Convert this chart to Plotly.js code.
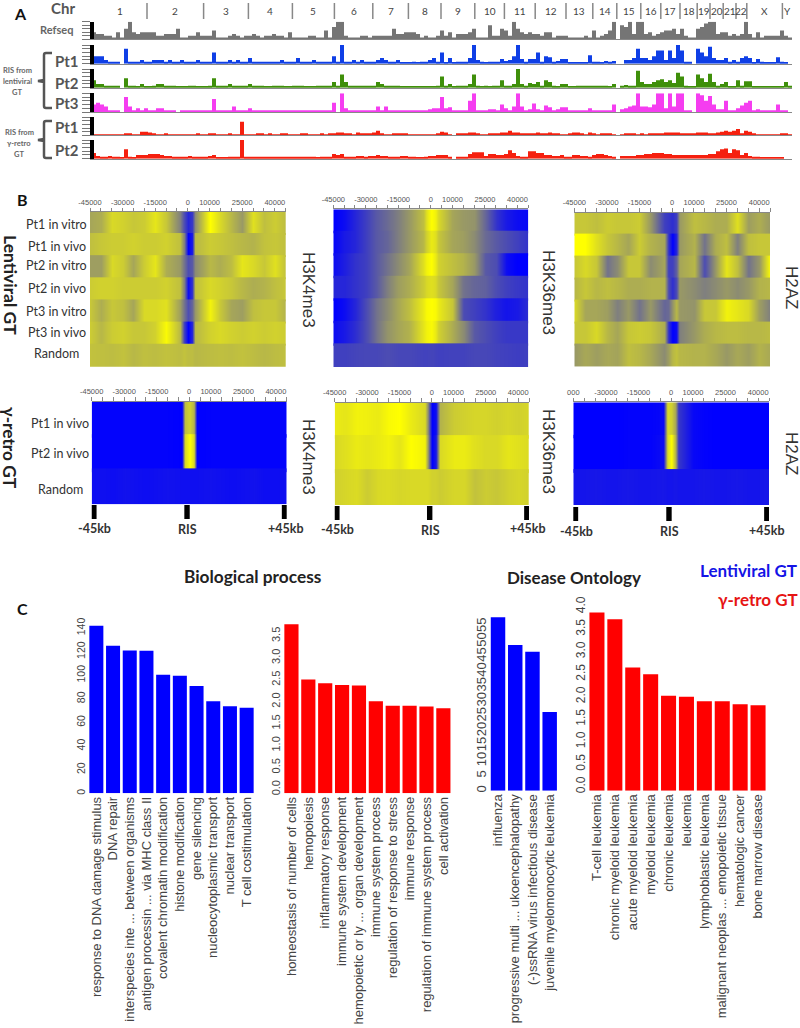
<!DOCTYPE html>
<html><head><meta charset="utf-8">
<script src="https://cdn.plot.ly/plotly-3.0.1.min.js"></script>
<style>html,body{margin:0;padding:0;background:#fff}</style></head>
<body><div id="chart" style="width:800px;height:1028px"></div>
<script>
// ---------- Panel A: chromosome tracks ----------
const chrNames=['1','2','3','4','5','6','7','8','9','10','11','12','13','14','15','16','17','18','19','20','21','22','X','Y'];
const chrEdges=[0,13.75,27.9,39.1,50.1,60.6,70.2,79.1,87.25,95.7,103.1,110.8,118.5,125.2,131.2,137.2,142.2,147,151.3,154.5,157.8,161,163.7,172.6,175];
const refseq=[4,3,3,2,2,1,4,1,6,10,4,3,4,4,4,4,2,2,3,3,3,6,1,1,2,2,4,2,2,2,5,1,1,1,2,3,2,1,2,2,3,2,1,2,2,3,2,2,1,4,1,1,1,1,2,2,1,1,5,1,7,10,10,2,1,1,1,2,2,1,2,2,2,2,2,6,3,
3,4,4,4,3,1,2,1,1,2,5,2,4,1,3,3,3,4,6,1,1,1,8,2,2,6,5,2,10,6,4,3,4,3,3,2,4,4,1,2,2,2,1,1,1,1,2,1,5,1,2,3,5,10,0,8,7,10,3,10,10,3,4,2,3,4,5,5,6,3,6,2,1,1,6,7,9,10,10,3,4,4,2,3,2,3,10,3,1,4,1,2,2,2,2,5,2,1];
const lentiPt1=[4,4,4,2,1,1,1,0,8,1,1,1,2,1,1,2,2,2,1,2,1,1,2,1,1,1,2,1,1,1,6,1,1,1,2,1,2,1,1,3,1,1,1,1,1,1,1,2,1,1,1,3,1,1,1,2,1,1,1,1,4,1,10,1,1,2,1,2,1,1,1,2,3,2,1,1,2,
.5,.5,.5,1,.5,1,1,2,3,1,6,.5,3,.5,1,1,1,3,10,2,1,.5,1,1,1,2.5,1.5,2,4,10,2.5,1,2.5,2.5,6,1,4,3.5,1,1.5,2.5,2.5,.5,.5,.5,.5,.5,4.5,1,1,.5,1.5,1,1.5,0,0,2,2,3,8,3,3,2,4,7,7,2,7,3,10,7,1,1,0,8,6,4,9,3,2,2,3,1,2,1,3,4,3,.5,2.5,1,.5,.5,.5,3.5,1,.5,0];
const lentiPt2=[4,2,2,1,1,1,1,0,5,1,1,.5,2,.5,.5,1,2,2,1,1,1,.5,.5,.5,1,1,.5,.5,.5,1,5,1,1,1,2,1,1,1,1,2,1,1,1,.5,.5,1,1,1,.5,.5,1,1,1,.5,.5,.5,1,1,1,1,3,1,7,3,1,1,1,1,1,1,1,3,2,1,1,1,1,
.5,.5,.5,.5,.5,.5,.5,.5,.5,1,6,1,2,.5,1,1,1,2,7,1,.5,1,.5,1,1,4,1,1,2,10,2,1,2.5,2,3,1,4,3,1,.5,2,2,.5,.5,1,1,1,1,1,1,1,1,.5,2,0,1,1.5,1,1,9,3,2,2,3,4,4.5,3,4,2.5,8,6,1,.5,.5,7,5,3,7.5,3,1,2,3,.5,.5,4,1,3.5,3.5,.5,.5,.5,.5,.5,.5,.5,.5,3,1,0];
const lentiPt3=[4,5,4,3,1,1,1,0,8,3,1,2,1,2,1,1,2,2,1,1,1,0,1,1,1,1,.5,1,1,1,7,1,1,.5,.5,3,.5,.5,1,2,1,.5,.5,1,1,.5,.5,1,.5,1,1,1,.5,.5,1,1,.5,.5,1,1,5,0,10,2,1,1,1,1,1,1,1,3,1,3,1,1,1,
.5,.5,.5,.5,.5,.5,.5,1.5,2,2,8,2,2.5,.5,1,.5,.5,6,10,1,.5,.5,1.5,1.5,1,4,2,1,3,10,3,1,1.5,4.5,1.5,.5,3.5,2.5,1,1.5,2.5,2.5,.5,1,1,1,.5,2,.5,1,1,1,1,4,0,1.5,2,3,3.5,10,3,3,2.5,4,10,10,2,10,3,10,10,.5,.5,0,10,9,6,8.5,4,1.5,1.5,6,1,1,2,3.5,5,6,.5,1.5,.5,.5,.5,.5,4,.5,.5,0];
const retroPt1=[.5,.5,.5,.5,.5,.5,.5,.5,1,1,.5,.5,2,2,1.5,1,.5,.5,1,.5,.5,.5,.5,.5,.5,.5,1,.5,.5,1,1,.5,.5,.5,1,.5,.5,7.5,.5,.5,.5,1,1,.5,1,.5,.5,1,1,.5,.5,.5,1,1,.5,.5,.5,1,.5,1,1,1.5,1.5,1,1,.5,1.5,1,1,1,1.5,2.5,1,.5,.5,1,1,
1,1,.5,.5,.5,.5,.5,.5,.5,1,2,1.5,.5,0,1,1,1,1.5,1.5,1,.5,.5,1,1,1,1.5,1.5,2.5,1.5,1.5,1,1,1,1,1.5,1,1,1.5,1,1,.5,.5,1,1.5,1.5,1,.5,1.5,1,.5,1,1,1,.5,0,.5,1,1,1,.5,1,.5,1,1,1,1,1.5,1.5,1.5,1.5,1,1,1,1,1.5,1.5,1.5,1,1,1.5,2,2.5,2,2.5,3.5,1,2.5,2,1,.5,.5,.5,.5,.5,.5,1,1,.5];
const retroPt2=[3,1.5,1,1,1.5,1,1,.5,5,1,.5,2,2,2,2.5,2.5,2.5,2,1.5,1.5,1,1,1,1,1.5,1,1,1,1,1.5,2,.5,.5,.5,1,1,1,10,1,1,1,1,1,1,1,1,1,1,1,1,1,1,1,1,1,1,.5,1,1,1,2.5,2,2.5,1,1,1,1.5,1.5,1,1.5,1.5,2,1.5,1.5,1,1,1,
1.5,1.5,1,1,.5,.5,1,1.5,1.5,2,2,2,1,0,1,1,1,2.5,3.5,3.5,3.5,1.5,2.5,2.5,2,2,2.5,4.5,3,1.5,1,1,4,4,3,3,2,2,1.5,1.5,2,1,1,2,2,1.5,1.5,1,2,2.5,2.5,2,1.5,1,0,1.5,1.5,1.5,1.5,2,2,2.5,2.5,3,3,3,2.5,2.5,2,2,2,2,2,2,2,2,2,2.5,2.5,4,5,5.5,3,5,4.5,2,3,1.5,1,1,.5,.5,.5,.5,.5,.5,0];
const trackColors=['#757575','#0f3fe6','#3f8f0a','#f53df0','#f5200f','#f5200f'];

// ---------- Panel B: heat maps (0 blue, 100 yellow) ----------
const offsets=[-45000,-40000,-35000,-30000,-25000,-20000,-15000,-10000,-3500,-2000,0,2000,3500,10000,15000,20000,25000,30000,35000,40000,45000];
const tickPos=[-45000,-40000,-35000,-30000,-25000,-20000,-15000,-10000,-5000,0,5000,10000,15000,20000,25000,30000,35000,40000,45000];
const tickTxt=['-45000','','','-30000','','','-15000','','','0','','10000','','','25000','','','40000',''];
const tickTxtCut=['000','','','-30000','','','-15000','','','0','','10000','','','25000','','','40000',''];
const k4Lenti=[
[65,68,85,82,78,80,90,78,50,30,15,22,55,100,85,72,60,88,75,80,74],
[75,78,80,80,82,80,80,82,75,50,0,10,72,80,78,75,72,70,76,78,75],
[62,62,85,80,65,80,90,68,60,45,30,35,55,72,68,74,90,85,78,88,75],
[80,82,82,80,80,80,80,82,75,50,5,20,75,85,82,78,72,68,70,75,78],
[78,68,78,75,65,85,85,88,62,45,30,40,60,95,78,65,62,75,78,78,70],
[80,72,80,82,78,78,82,98,72,25,0,15,72,82,85,82,80,82,80,82,80],
[76,75,74,76,72,75,74,76,74,76,74,74,72,74,75,74,76,74,72,74,75]];
const k36Lenti=[
[0,5,15,25,35,42,50,60,75,88,100,95,85,65,60,58,40,20,10,5,3],
[2,10,15,25,35,40,50,60,72,82,92,88,78,65,62,55,42,35,30,25,20],
[5,12,20,25,35,45,55,65,88,95,100,92,82,75,70,60,35,30,5,0,0],
[15,15,20,25,35,50,62,68,80,85,88,85,78,65,45,40,38,30,25,22,20],
[0,5,15,30,45,55,66,75,92,98,100,98,92,78,30,25,20,12,8,10,18],
[5,10,18,30,45,58,65,70,90,95,98,92,82,68,55,35,30,25,22,22,22],
[25,25,27,28,28,30,28,28,26,26,27,26,25,26,26,28,28,26,25,24,25]];
const h2azLenti=[
[78,78,75,80,78,78,80,60,25,22,18,25,60,75,72,68,68,88,62,68,60],
[100,100,88,78,72,65,80,70,65,20,0,15,60,70,45,68,75,50,75,78,78],
[78,85,78,45,55,78,78,55,65,25,25,38,65,72,30,60,90,75,45,60,100],
[72,78,72,75,72,68,68,70,70,30,18,30,60,55,50,55,60,55,60,70,72],
[85,65,65,62,50,60,45,60,40,42,58,72,60,58,78,78,95,90,85,62,50],
[78,78,85,72,65,78,80,78,68,20,0,5,50,60,68,72,74,74,72,72,74],
[60,66,62,66,64,75,72,66,55,62,72,76,72,70,70,66,60,66,62,70,66]];
const k4Retro=[
[1,1,1,1,1,1,1,1,0,75,82,70,0,1,1,1,1,1,1,1,1],
[1,1,1,1,1,1,1,1,0,85,100,85,0,1,1,1,1,1,1,1,1],
[5,6,5,7,6,5,6,7,6,6,6,6,6,7,6,5,6,7,5,5,6]];
const k36Retro=[
[92,90,95,94,92,98,100,92,85,55,0,5,70,80,82,84,84,82,84,82,84],
[85,88,92,90,92,95,90,100,95,60,0,10,85,92,92,88,85,85,90,88,86],
[82,84,86,80,85,86,84,85,85,85,82,82,80,84,84,76,80,78,82,84,82]];
const h2azRetro=[
[0,0,0,0,0,1,1,1,3,85,82,65,22,3,1,0,0,0,0,0,0],
[0,0,0,0,0,1,1,1,5,85,100,70,22,3,1,0,0,0,0,0,0],
[8,8,9,8,8,9,8,8,9,8,8,9,8,8,9,8,8,9,8,8,9]];
const rowsLenti=['Pt1 in vitro','Pt1 in vivo','Pt2 in vitro','Pt2 in vivo','Pt3 in vitro','Pt3 in vivo','Random'];
const rowsRetro=['Pt1 in vivo','Pt2 in vivo','Random'];

// ---------- Panel C: bars ----------
const bpLentiCats=['response to DNA damage stimulus','DNA repair','interspecies inte ... between organisms','antigen processin ... via MHC class II','covalent chromatin modification','histone modification','gene silencing','nucleocytoplasmic transport','nuclear transport','T cell costimulation'];
const bpLentiVals=[142,125,121,120.8,100.5,99.7,91,78,73.7,72.4];
const bpRetroCats=['homeostasis of number of cells','hemopoiesis','inflammatory response','immune system development','hemopoietic or ly ... organ development','immune system process','regulation of response to stress','immune response','regulation of immune system process','cell activation'];
const bpRetroVals=[3.86,2.6,2.51,2.47,2.46,2.1,2.0,2.0,1.98,1.94];
const doLentiCats=['influenza','progressive multi ... ukoencephalopathy','(-)ssRNA virus infectious disease','juvenile myelomonocytic leukemia'];
const doLentiVals=[58.1,48.8,46.6,26.4];
const doRetroCats=['T-cell leukemia','chronic myeloid leukemia','acute myeloid leukemia','myeloid leukemia','chronic leukemia','leukemia','lymphoblastic leukemia','malignant neoplas ... emopoietic tissue','hematologic cancer','bone marrow disease'];
const doRetroVals=[3.96,3.81,2.74,2.59,2.11,2.09,1.99,1.99,1.92,1.9];

const W=800,H=1028;
const px=v=>v/W, py=v=>1-v/H;
const traces=[],shapes=[],annotations=[],layout={};
let n=0;
function sub(l,r,t,b,xc,yc){
  n++; const s=n===1?'':String(n);
  layout['xaxis'+s]=Object.assign({domain:[px(l),px(r)],anchor:'y'+s,fixedrange:true,showgrid:false,zeroline:false},xc);
  layout['yaxis'+s]=Object.assign({domain:[py(b),py(t)],anchor:'x'+s,fixedrange:true,showgrid:false,zeroline:false},yc);
  return {x:'x'+s,y:'y'+s};
}
function note(text,x,y,size,o){
  o=o||{};
  annotations.push({text,x:px(x),y:py(y),xref:'paper',yref:'paper',showarrow:false,xanchor:'center',yanchor:'middle',
    textangle:o.rot||0,font:{family:o.fam||'Lato',size,color:o.color||'#333',weight:o.bold?700:400}});
}

// A tracks
const trackData=[refseq,lentiPt1,lentiPt2,lentiPt3,retroPt1,retroPt2];
const trackBox=[[21.7,39.3],[45,63.7],[69,87.7],[93.3,112],[117.3,135.3],[140,158.7]];
trackData.forEach((d,i)=>{
  const a=sub(94,792,trackBox[i][0],trackBox[i][1],
    {range:[0.5,175],showticklabels:false,ticks:'',showline:true,linecolor:'#888',linewidth:1},
    {range:[0,10],tickmode:'array',tickvals:[0,2,4,6,8,10],showticklabels:false,ticks:'outside',ticklen:8,tickcolor:'#777',tickwidth:1,showline:true,linecolor:'#000',linewidth:4});
  traces.push({type:'bar',x:d.map((_,k)=>k+0.5),y:d,width:1,xaxis:a.x,yaxis:a.y,marker:{color:trackColors[i],line:{width:0}},hoverinfo:'skip',showlegend:false});
});
chrNames.forEach((c,i)=>{
  shapes.push({type:'line',xref:'x',yref:'paper',x0:chrEdges[i],x1:chrEdges[i],y0:py(3),y1:py(19),line:{color:'#888',width:1.5}});
  annotations.push({text:c,x:(chrEdges[i]+chrEdges[i+1])/2,xref:'x',y:py(11),yref:'paper',showarrow:false,xanchor:'center',yanchor:'middle',font:{family:'Lato',size:10,color:'#444'}});
});

// B heat maps
const scale=[[0,'rgb(0,0,255)'],[1,'rgb(255,255,0)']];
function heat(rows,l,r,t,b,txt){
  const a=sub(l,r,t,b,
    {side:'top',range:[-45000,45000],tickmode:'array',tickvals:tickPos,ticktext:txt,ticks:'outside',ticklen:3.5,tickcolor:'#888',tickwidth:1,showline:true,linecolor:'#888',linewidth:1,tickangle:0,tickfont:{family:'Liberation Sans',size:7.5,color:'#555'}},
    {range:[rows.length,0],showticklabels:false,ticks:'',showline:false});
  rows.forEach((row,i)=>{
    traces.push({type:'heatmap',x:offsets,y:[i-0.05,i+0.5,i+1.05],z:[row,row],zmin:0,zmax:100,zsmooth:'best',colorscale:scale,showscale:false,hoverinfo:'skip',xaxis:a.x,yaxis:a.y});
  });
  return a;
}
heat(k4Lenti,90,285.7,212,367,tickTxt);
heat(k36Lenti,333.3,528.3,209.3,367,tickTxt);
heat(h2azLenti,574.3,770,212.7,366.7,tickTxt);
const b1=heat(k4Retro,91.7,286.7,401.7,504.3,tickTxt);
const b2=heat(k36Retro,334.7,529,402.7,505,tickTxt);
const b3=heat(h2azRetro,573.3,769,402.3,505,tickTxtCut);
const markPos=[-44000,-1000,44000];
[[b1,505,519],[b2,506,520],[b3,507,521]].forEach(([a,t,b])=>{
  markPos.forEach(v=>shapes.push({type:'rect',xref:a.x,yref:'paper',xsizemode:'pixel',xanchor:v,x0:-2.7,x1:2.7,y0:py(b),y1:py(t),fillcolor:'#000',line:{width:0}}));
});
const kbLabels=['-45kb','RIS','+45kb'];
[[94,528],[187,529],[286,528]].forEach((p,i)=>note(kbLabels[i],p[0],p[1],12.5,{bold:1}));
[[337,529],[431,530],[528,528]].forEach((p,i)=>note(kbLabels[i],p[0],p[1],12.5,{bold:1}));
[[576,531],[669,531],[767,530]].forEach((p,i)=>note(kbLabels[i],p[0],p[1],12.5,{bold:1}));
[224,246,266,288,311,333,353].forEach((y,i)=>note(rowsLenti[i],57,y,12.5));
[423,453,489].forEach((y,i)=>note(rowsRetro[i],60,y,12.5));
note('Lentiviral GT',11,285,17.5,{rot:90,color:'#222',bold:1});
note('γ-retro GT',10,448,17.3,{rot:90,color:'#222',bold:1});
[['H3K4me3',309,290],['H3K36me3',549,292],['H2AZ',792,287],['H3K4me3',309,457],['H3K36me3',549,451],['H2AZ',792,453]].forEach(q=>note(q[0],q[1],q[2],17,{rot:90,fam:'Liberation Sans',color:'#333'}));

// C bars
function bars(cats,vals,color,l,r,t,b,top,tv,tt,shift,ysize){
  const a=sub(l,r,t,b,
    {type:'category',categoryorder:'array',categoryarray:cats,range:[-0.5,cats.length-0.5],tickangle:-90,ticks:'',showline:false,tickfont:{family:'Liberation Sans',size:13,color:'#444'}},
    {range:[0,top],tickmode:'array',tickvals:tv,ticktext:tt,tickangle:-90,ticks:'',showline:false,ticklabelshift:shift,tickfont:{family:'Liberation Sans',size:ysize,color:'#444'}});
  traces.push({type:'bar',x:cats,y:vals,xaxis:a.x,yaxis:a.y,marker:{color,line:{width:0}},hoverinfo:'skip',showlegend:false});
  layout.bargap=0.16;
}
const t140=[0,20,40,60,80,100,120,140];
const t35=[0,.5,1,1.5,2,2.5,3,3.5];const t35t=t35.map(v=>v.toFixed(1));
const t55=[0,5,10,15,20,25,30,35,40,45,50,55];
const t40=[0,.5,1,1.5,2,2.5,3,3.5,4];const t40t=t40.map(v=>v.toFixed(1));
bars(bpLentiCats,bpLentiVals,'#0000ff',88,255,616.3,793.3,150,t140,t140.map(String),0,10.5);
bars(bpRetroCats,bpRetroVals,'#ff0000',283,451.8,618.1,793.3,4,t35,t35t,-4,11);
bars(doLentiCats,doLentiVals,'#0000ff',489.4,558.3,611.7,790.7,60,t55,t55.map(String),0,13);
bars(doRetroCats,doRetroVals,'#ff0000',588,767,610.7,790.7,4,t40,t40t,-4,12);
note('Biological process',253,576,17.3,{color:'#222',bold:1});
note('Disease Ontology',574,577,17,{color:'#222',bold:1});
note('Lentiviral GT',748.5,570,17,{color:'#1414e6',bold:1});
note('γ-retro GT',757.5,599,17,{color:'#e61414',bold:1});

// A side labels and brackets
note('A',20,14,16,{color:'#111',bold:1});
note('B',22,200,16,{color:'#111',bold:1});
note('C',22,608,16,{color:'#111',bold:1});
note('Chr',63,8,15,{color:'#555',bold:1});
note('Refseq',57,29,11,{color:'#666',bold:1});
[['Pt1',61],['Pt2',83],['Pt3',103],['Pt1',127],['Pt2',150]].forEach(q=>note(q[0],67,q[1],15,{color:'#555',bold:1}));
['RIS from','lentiviral','GT'].forEach((s,i)=>note(s,17,[71,82,92][i],7.5,{color:'#666',bold:1}));
['RIS from','γ-retro','GT'].forEach((s,i)=>note(s,19,[133,144,154][i],7.5,{color:'#666',bold:1}));
function bracket(t,b,m){
  const p=(x,y)=>px(x).toFixed(5)+','+py(y).toFixed(5);
  shapes.push({type:'path',xref:'paper',yref:'paper',
    path:'M'+p(52,t)+' L'+p(46,t)+' Q'+p(44,t)+' '+p(44,t+2)+' L'+p(44,m-1)+' L'+p(38,m)+' L'+p(44,m+1)+' L'+p(44,b-2)+' Q'+p(44,b)+' '+p(46,b)+' L'+p(52,b),
    line:{color:'#555',width:2.5},fillcolor:'rgba(0,0,0,0)'});
}
bracket(53,108,81);
bracket(121,158,140);

Object.assign(layout,{width:W,height:H,margin:{l:0,r:0,t:0,b:0},autosize:false,paper_bgcolor:'#fff',plot_bgcolor:'#fff',showlegend:false,shapes,annotations,font:{family:'Liberation Sans'}});
Plotly.newPlot('chart',traces,layout,{displayModeBar:false,responsive:false});
</script></body></html>
